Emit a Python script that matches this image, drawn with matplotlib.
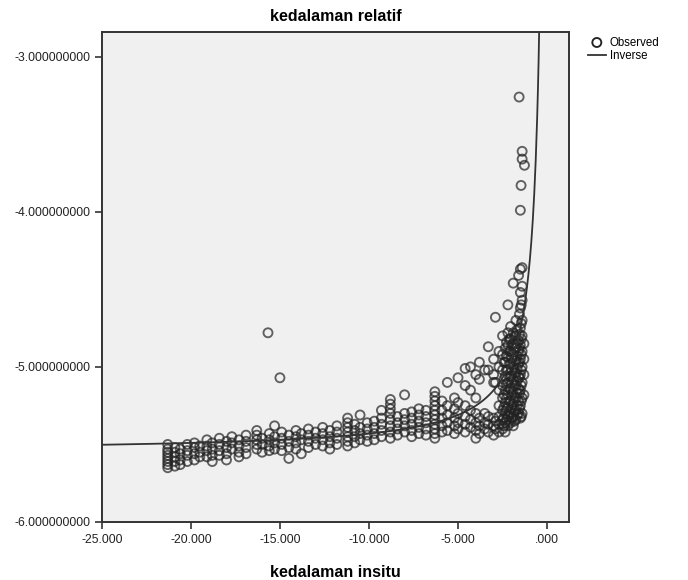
"""Curve fit (inverse model) of relative depth against in-situ depth."""

import matplotlib.pyplot as plt
import numpy as np
from matplotlib.ticker import FuncFormatter

plt.rcParams["font.family"] = ["Liberation Sans", "DejaVu Sans"]

# observed points, grouped by x column (in-situ depth)
col_x = [
    -21.3, -20.9, -20.6, -20.2, -19.8, -19.5, -19.1, -18.8, -18.4, -18.0,
    -17.7, -17.3, -16.9, -16.3, -16.0, -15.6, -15.3, -14.9, -14.5, -14.1,
    -13.8, -13.4, -13.0, -12.6, -12.2, -11.8, -11.2, -10.8, -10.5, -10.1,
    -9.7, -9.3, -8.8, -8.4, -8.0, -7.6, -7.2, -6.8, -6.3, -5.9,
    -5.6, -5.2, -5.0, -4.6, -4.3, -4.0, -3.8, -3.5, -3.3, -3.0,
    -2.9, -2.7, -2.5, -2.35, -2.2, -2.05, -1.9, -1.75, -1.6, -1.5,
    -1.4, -1.3, -2.42, -2.28, -2.12, -1.98, -1.83, -1.68, -1.55, -1.45,
]
col_y = [
    [-5.50, -5.53, -5.55, -5.57, -5.59, -5.61, -5.63, -5.65],
    [-5.52, -5.55, -5.58, -5.61, -5.64],
    [-5.53, -5.56, -5.60, -5.63],
    [-5.50, -5.54, -5.57, -5.61],
    [-5.49, -5.52, -5.56, -5.60],
    [-5.51, -5.55, -5.58],
    [-5.47, -5.51, -5.54, -5.58],
    [-5.49, -5.53, -5.57, -5.61],
    [-5.46, -5.50, -5.54, -5.57],
    [-5.48, -5.52, -5.56, -5.60],
    [-5.45, -5.49, -5.53],
    [-5.47, -5.51, -5.55, -5.58],
    [-5.44, -5.48, -5.52, -5.56],
    [-5.41, -5.44, -5.47, -5.50, -5.53],
    [-5.46, -5.50, -5.55],
    [-5.43, -5.47, -5.51, -5.54],
    [-5.38, -5.45, -5.49, -5.53],
    [-5.42, -5.46, -5.50, -5.54],
    [-5.44, -5.48, -5.52, -5.59],
    [-5.41, -5.45, -5.49, -5.53],
    [-5.43, -5.47, -5.56],
    [-5.40, -5.44, -5.48, -5.52],
    [-5.42, -5.46, -5.50],
    [-5.39, -5.43, -5.47, -5.51],
    [-5.41, -5.45, -5.49, -5.53],
    [-5.38, -5.42, -5.46, -5.50],
    [-5.33, -5.36, -5.39, -5.42, -5.45, -5.48, -5.51],
    [-5.37, -5.41, -5.45, -5.49],
    [-5.31, -5.39, -5.43, -5.47],
    [-5.36, -5.40, -5.44, -5.48],
    [-5.35, -5.39, -5.43, -5.47],
    [-5.28, -5.33, -5.37, -5.41, -5.45],
    [-5.21, -5.24, -5.27, -5.30, -5.34, -5.38, -5.42, -5.46],
    [-5.32, -5.36, -5.40, -5.44],
    [-5.18, -5.30, -5.34, -5.38, -5.42],
    [-5.29, -5.33, -5.37, -5.41, -5.45],
    [-5.27, -5.31, -5.35, -5.39, -5.43],
    [-5.28, -5.32, -5.36, -5.40, -5.44],
    [-5.16, -5.19, -5.22, -5.25, -5.28, -5.31, -5.34, -5.37, -5.40, -5.43, -5.46],
    [-5.22, -5.28, -5.33, -5.38, -5.42],
    [-5.10, -5.25, -5.31, -5.36, -5.41],
    [-5.20, -5.27, -5.33, -5.38, -5.43],
    [-5.07, -5.23, -5.30, -5.36, -5.40],
    [-5.01, -5.12, -5.25, -5.32, -5.37, -5.42],
    [-5.00, -5.15, -5.28, -5.34, -5.39],
    [-5.05, -5.20, -5.30, -5.36, -5.41, -5.46],
    [-4.97, -5.08, -5.33, -5.38, -5.43],
    [-5.02, -5.30, -5.36, -5.40],
    [-4.87, -5.02, -5.32, -5.37, -5.42],
    [-4.95, -5.05, -5.10, -5.33, -5.38, -5.44],
    [-4.68, -5.10, -5.35, -5.40],
    [-4.90, -5.00, -5.15, -5.25, -5.32, -5.37, -5.42],
    [-4.80, -4.92, -5.02, -5.12, -5.20, -5.28, -5.34, -5.40],
    [-4.88, -4.97, -5.06, -5.15, -5.23, -5.30, -5.36, -5.42],
    [-4.60, -4.78, -4.86, -4.94, -5.02, -5.10, -5.18, -5.26, -5.32, -5.38],
    [-4.74, -4.82, -4.90, -4.98, -5.06, -5.14, -5.22, -5.30, -5.36],
    [-4.46, -4.78, -4.85, -4.92, -5.00, -5.08, -5.16, -5.24, -5.32, -5.38],
    [-4.70, -4.80, -4.88, -4.96, -5.04, -5.12, -5.20, -5.28, -5.34],
    [-4.41, -4.83, -4.90, -4.98, -5.06, -5.14, -5.22, -5.30],
    [-4.37, -4.52, -4.62, -4.75, -4.86, -4.95, -5.05, -5.15, -5.25, -5.33],
    [-4.36, -4.48, -4.57, -4.70, -4.80, -4.90, -5.00, -5.10, -5.20, -5.30],
    [-4.85, -4.95, -5.05, -5.18],
    [-4.97, -5.08, -5.18, -5.26, -5.33, -5.38],
    [-4.84, -4.93, -5.02, -5.11, -5.20, -5.27, -5.34],
    [-4.82, -4.90, -4.98, -5.06, -5.14, -5.22, -5.29, -5.35],
    [-4.86, -4.94, -5.02, -5.10, -5.18, -5.26, -5.33],
    [-4.80, -4.88, -4.96, -5.04, -5.12, -5.20, -5.28, -5.35],
    [-4.76, -4.85, -4.93, -5.01, -5.09, -5.17, -5.25, -5.31],
    [-4.66, -4.79, -4.88, -4.97, -5.07, -5.17, -5.27],
    [-4.60, -4.72, -4.82, -4.92, -5.02, -5.12, -5.22, -5.32],
]

# isolated points
tail_x = [-1.57, -1.40, -1.40, -1.27, -1.46, -1.50, -15.67, -15.00]
tail_y = [-3.26, -3.61, -3.66, -3.70, -3.83, -3.99, -4.78, -5.07]

# fitted inverse model: y = b0 + b1 / x
b0 = -5.55
b1 = -1.20

obs_x = [x for x, ys in zip(col_x, col_y) for _ in ys] + tail_x
obs_y = [y for ys in col_y for y in ys] + tail_y

fig = plt.figure(figsize=(6.88, 5.80), dpi=100)
ax = fig.add_axes([0.148, 0.10, 0.679, 0.845])
ax.set_facecolor("#f0f0f0")

ax.scatter(obs_x, obs_y, s=42, facecolors="none", edgecolors="#222222",
           linewidths=1.35, alpha=0.7, label="Observed", zorder=2)

xs = np.linspace(-25, -0.35, 600)
ax.plot(xs, b0 + b1 / xs, color="#333333", lw=1.3, label="Inverse", zorder=3)

ax.set_xlim(-25, 1.23)
ax.set_ylim(-6, -2.84)
ax.set_xticks([-25, -20, -15, -10, -5, 0])
ax.set_yticks([-6, -5, -4, -3])


def _fmt_x(v, _pos):
    s = f"{v:.3f}"
    return ".000" if abs(v) < 1e-9 else s


ax.xaxis.set_major_formatter(FuncFormatter(_fmt_x))
ax.yaxis.set_major_formatter(FuncFormatter(lambda v, _p: f"{v:.9f}"))
ax.tick_params(axis="both", direction="out", length=5, width=1.2,
               colors="#333333", labelsize=8.7, labelcolor="#222222")
for sp in ax.spines.values():
    sp.set_color("#333333")
    sp.set_linewidth(1.4)

ax.set_title("kedalaman relatif", fontsize=11.5, fontweight="bold", pad=8)
ax.set_xlabel("kedalaman insitu", fontsize=11.5, fontweight="bold", labelpad=14)

leg = ax.legend(loc="upper left", bbox_to_anchor=(1.03, 1.0), frameon=False,
                fontsize=8.3, handlelength=1.6, handletextpad=0.3,
                borderaxespad=0.0, labelspacing=0.1)
for h in leg.legend_handles:
    h.set_alpha(1.0)

fig.savefig("out.png", dpi=100, facecolor="white")
